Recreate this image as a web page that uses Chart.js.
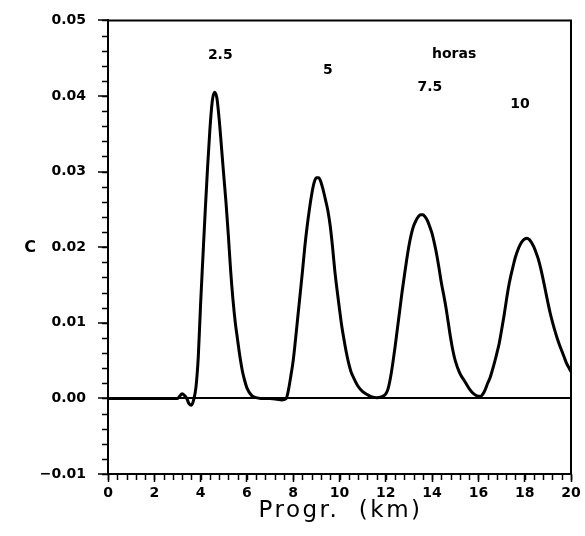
<!DOCTYPE html>
<html>
<head>
<meta charset="utf-8">
<script src="https://cdn.jsdelivr.net/npm/chart.js@4.4.1/dist/chart.umd.min.js"></script>
<style>
  html, body { margin: 0; padding: 0; background: #fff; }
  #wrap { width: 585px; height: 536px; }
</style>
</head>
<body>
<div id="wrap"><canvas id="c" width="585" height="536"></canvas></div>
<script>
// ---- data (distance in km, concentration C) ----
const xKm = [
  0, 1, 2, 2.8, 3.0, 3.1, 3.2, 3.3, 3.4, 3.5, 3.6, 3.7, 3.8, 3.9,
  4.0, 4.1, 4.2, 4.3, 4.4, 4.5, 4.6, 4.7, 4.8, 4.9,
  5.0, 5.1, 5.2, 5.3, 5.4, 5.5, 5.6, 5.7, 5.8, 5.9,
  6.0, 6.2, 6.4, 6.6, 7.0, 7.3, 7.5, 7.7, 7.8, 7.9,
  8.0, 8.1, 8.2, 8.3, 8.4, 8.5, 8.6, 8.7, 8.8, 8.9,
  9.0, 9.1, 9.2, 9.3, 9.4, 9.5, 9.6, 9.7, 9.8, 9.9,
  10.0, 10.1, 10.2, 10.3, 10.4, 10.5, 10.6, 10.8, 11.0, 11.2, 11.4, 11.6, 11.8,
  12.0, 12.1, 12.2, 12.3, 12.4, 12.5, 12.6, 12.7, 12.8, 12.9,
  13.0, 13.1, 13.2, 13.3, 13.4, 13.5, 13.6, 13.7, 13.8, 13.9,
  14.0, 14.1, 14.2, 14.3, 14.4, 14.5, 14.6, 14.7, 14.8, 14.9,
  15.0, 15.2, 15.4, 15.6, 15.8, 16.0, 16.1, 16.2, 16.3, 16.4, 16.5, 16.6, 16.7, 16.8, 16.9,
  17.0, 17.1, 17.2, 17.3, 17.4, 17.5, 17.6, 17.7, 17.8, 17.9,
  18.0, 18.1, 18.2, 18.3, 18.4, 18.5, 18.6, 18.7, 18.8, 18.9,
  19.0, 19.1, 19.2, 19.3, 19.4, 19.5, 19.6, 19.7, 19.8, 19.9, 20.0
];
const conc = [
  0, 0, 0, 0, 0, 0.0003, 0.0006, 0.0004, 0.0000, -0.0007, -0.0009, -0.0002, 0.0015, 0.0055,
  0.0125, 0.0187, 0.0248, 0.0305, 0.0355, 0.0392, 0.0405, 0.0398, 0.0370, 0.0333,
  0.0295, 0.0258, 0.0215, 0.0168, 0.0130, 0.0100, 0.0077, 0.0055, 0.0037, 0.0024,
  0.0014, 0.0004, 0.0001, 0.0000, 0.0000, -0.0001, -0.0002, 0.0000, 0.0012, 0.0030,
  0.0050, 0.0078, 0.0108, 0.0138, 0.0168, 0.0200, 0.0227, 0.0250, 0.0270, 0.0285,
  0.0292, 0.0292, 0.0286, 0.0275, 0.0262, 0.0248, 0.0228, 0.0200, 0.0168, 0.0142,
  0.0118, 0.0095, 0.0077, 0.0060, 0.0046, 0.0035, 0.0028, 0.0016, 0.0009, 0.0005, 0.0002, 0.0001, 0.0002,
  0.0006, 0.0013, 0.0027, 0.0046, 0.0068, 0.0092, 0.0116, 0.0140, 0.0162, 0.0183,
  0.0202, 0.0217, 0.0228, 0.0235, 0.0240, 0.0243, 0.0243, 0.0240, 0.0235, 0.0227,
  0.0218, 0.0205, 0.0190, 0.0172, 0.0153, 0.0137, 0.0120, 0.0100, 0.0080, 0.0063,
  0.0050, 0.0033, 0.0023, 0.0013, 0.0006, 0.0003, 0.0003, 0.0006, 0.0012, 0.0020, 0.0027, 0.0037, 0.0048, 0.0060, 0.0073,
  0.0090, 0.0108, 0.0128, 0.0147, 0.0162, 0.0175, 0.0187, 0.0196, 0.0203, 0.0208,
  0.0211, 0.0212, 0.0210, 0.0206, 0.0200, 0.0192, 0.0183, 0.0171, 0.0157, 0.0142,
  0.0127, 0.0113, 0.0101, 0.0090, 0.0080, 0.0071, 0.0063, 0.0055, 0.0047, 0.0041, 0.0035
];
// curve labels (time in hours), anchored in data coordinates
const labelText = ['2.5', '5', 'horas', '7.5', '10'];
const labelX    = [4.85, 9.5, 14.95, 13.9, 17.8];
const labelY    = [0.0454, 0.0434, 0.0455, 0.0411, 0.0389];
// axis ranges / ticks
const xMin = 0, xMax = 20, xStep = 2, xMinorStep = 0.4;
const yMin = -0.01, yMax = 0.05, yStep = 0.01, yMinorStep = 0.002;
const xTitle = 'Progr.  (km)';
const yTitle = 'C';

const points = xKm.map((x, i) => ({ x: x, y: conc[i] }));

const extras = {
  id: 'extras',
  afterDraw(chart) {
    const ctx = chart.ctx;
    const a = chart.chartArea;
    const xs = chart.scales.x, ys = chart.scales.y;
    ctx.save();
    ctx.strokeStyle = '#000';
    // top and right frame
    ctx.lineWidth = 2;
    ctx.beginPath();
    ctx.moveTo(a.left, a.top); ctx.lineTo(a.right, a.top); ctx.lineTo(a.right, a.bottom);
    ctx.stroke();
    // minor ticks
    ctx.lineWidth = 1.5;
    ctx.beginPath();
    const nx = Math.round((xMax - xMin) / xMinorStep);
    for (let i = 0; i <= nx; i++) {
      const v = xMin + i * xMinorStep;
      const px = Math.round(xs.getPixelForValue(v)) + 0.5;
      ctx.moveTo(px, a.bottom); ctx.lineTo(px, a.bottom + 6);
    }
    const ny = Math.round((yMax - yMin) / yMinorStep);
    for (let i = 0; i <= ny; i++) {
      const v = yMin + i * yMinorStep;
      const py = Math.round(ys.getPixelForValue(v)) + 0.5;
      ctx.moveTo(a.left, py); ctx.lineTo(a.left - 6, py);
    }
    ctx.stroke();
    // curve labels
    ctx.fillStyle = '#000';
    ctx.font = 'bold 14px "DejaVu Sans"';
    ctx.textAlign = 'center';
    ctx.textBaseline = 'middle';
    labelText.forEach((t, i) => {
      ctx.fillText(t, xs.getPixelForValue(labelX[i]), ys.getPixelForValue(labelY[i]));
    });
    // axis titles
    ctx.font = '23px "DejaVu Sans"';
    ctx.letterSpacing = '2.5px';
    ctx.textBaseline = 'alphabetic';
    ctx.fillText(xTitle, (a.left + a.right) / 2 + 1, 517);
    ctx.letterSpacing = '0px';
    ctx.font = 'bold 16px "DejaVu Sans"';
    ctx.textBaseline = 'middle';
    ctx.fillText(yTitle, 30, ys.getPixelForValue(0.02) + 1);
    ctx.restore();
  }
};

new Chart(document.getElementById('c'), {
  type: 'line',
  data: {
    datasets: [{
      data: points,
      borderColor: '#000',
      borderWidth: 3,
      pointRadius: 0,
      fill: false,
      cubicInterpolationMode: 'monotone'
    }]
  },
  options: {
    responsive: false,
    animation: false,
    events: [],
    layout: { padding: { top: 16, right: 14, left: 0, bottom: 0 } },
    plugins: { legend: { display: false }, tooltip: { enabled: false } },
    scales: {
      x: {
        type: 'linear',
        min: xMin, max: xMax,
        afterFit(s) { s.height = 62; },
        ticks: {
          stepSize: xStep,
          padding: 3,
          color: '#000',
          font: { family: 'DejaVu Sans', weight: 'bold', size: 14 },
          maxRotation: 0,
          autoSkip: false
        },
        grid: { drawOnChartArea: false, tickLength: 8, tickColor: '#000', tickWidth: 1.5 },
        border: { color: '#000', width: 2 }
      },
      y: {
        type: 'linear',
        min: yMin, max: yMax,
        afterFit(s) { s.width = 108; },
        ticks: {
          stepSize: yStep,
          padding: 12,
          color: '#000',
          font: { family: 'DejaVu Sans', weight: 'bold', size: 14 },
          autoSkip: false,
          callback: v => (v < 0 ? '\u2212' : '') + Math.abs(v).toFixed(2)
        },
        grid: {
          drawOnChartArea: true,
          tickLength: 10,
          tickColor: '#000',
          tickWidth: 1.5,
          lineWidth: 2,
          color: c => (c.tick && Math.abs(c.tick.value) < 1e-9) ? '#000' : 'rgba(0,0,0,0)'
        },
        border: { color: '#000', width: 2 }
      }
    }
  },
  plugins: [extras]
});
</script>
</body>
</html>
